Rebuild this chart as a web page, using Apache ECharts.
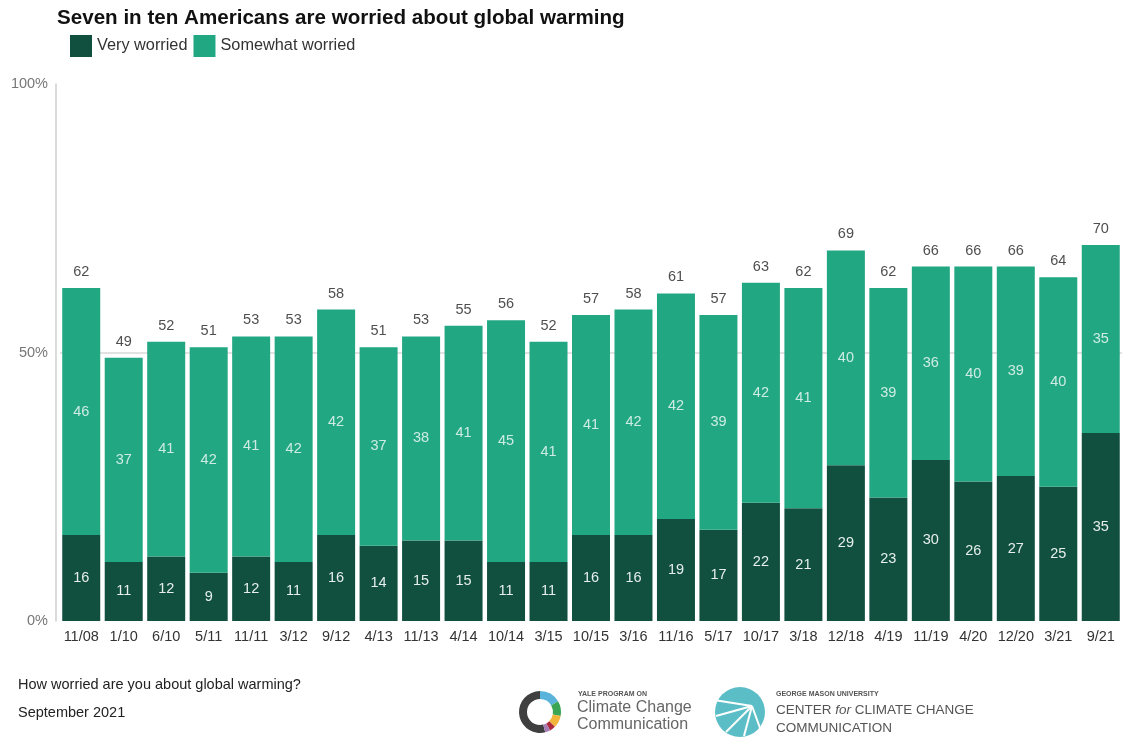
<!DOCTYPE html>
<html>
<head>
<meta charset="utf-8">
<script src="https://cdn.jsdelivr.net/npm/echarts@6/dist/echarts.min.js"></script>
<style>
  html, body { margin: 0; padding: 0; background: #fff; }
  #chart { width: 1122px; height: 740px; }
</style>
</head>
<body>
<div id="chart"></div>
<script>
// survey waves
const waves = ['11/08', '1/10', '6/10', '5/11', '11/11', '3/12', '9/12', '4/13', '11/13', '4/14',
  '10/14', '3/15', '10/15', '3/16', '11/16', '5/17', '10/17', '3/18', '12/18', '4/19',
  '11/19', '4/20', '12/20', '3/21', '9/21'];
// % very worried
const veryWorried = [16, 11, 12, 9, 12, 11, 16, 14, 15, 15, 11, 11, 16, 16, 19, 17, 22, 21, 29, 23, 30, 26, 27, 25, 35];
// % somewhat worried (label values)
const somewhatWorried = [46, 37, 41, 42, 41, 42, 42, 37, 38, 41, 45, 41, 41, 42, 42, 39, 42, 41, 40, 39, 36, 40, 39, 40, 35];
// total worried (rounded, so not always very + somewhat)
const totalWorried = [62, 49, 52, 51, 53, 53, 58, 51, 53, 55, 56, 52, 57, 58, 61, 57, 63, 62, 69, 62, 66, 66, 66, 64, 70];
const yTicks = [0, 50, 100];

const DARK = '#114f3f';
const LIGHT = '#22a783';
const FONT = '"Liberation Sans", Arial, sans-serif';

// top segment fills up to the total
const upperPart = totalWorried.map((t, i) => t - veryWorried[i]);

const chart = echarts.init(document.getElementById('chart'));

const option = {
  animation: false,
  textStyle: { fontFamily: FONT },
  title: {
    text: 'Seven in ten Americans are worried about global warming',
    left: 52,
    top: 3,
    textStyle: { fontSize: 20.6, fontWeight: 'bold', color: '#111', fontFamily: FONT }
  },
  legend: {
    left: 65,
    top: 30,
    itemWidth: 22,
    itemHeight: 22,
    itemGap: 6,
    icon: 'rect',
    data: ['Very worried', 'Somewhat worried'],
    textStyle: { fontSize: 16.3, color: '#333', fontFamily: FONT }
  },
  grid: { left: 60, top: 84, width: 1067, height: 537 },
  xAxis: {
    type: 'category',
    data: waves,
    axisLine: { show: false },
    axisTick: { show: false },
    axisLabel: { interval: 0, color: '#333', fontSize: 14.5, margin: 8, fontFamily: FONT }
  },
  yAxis: {
    type: 'value',
    min: yTicks[0],
    max: yTicks[yTicks.length - 1],
    interval: 50,
    offset: 4,
    axisLine: { show: true, lineStyle: { color: '#cfcfcf', width: 1.5 } },
    axisTick: { show: false },
    axisLabel: { color: '#777', fontSize: 14.5, margin: 8, formatter: '{value}%', fontFamily: FONT },
    splitLine: { show: true, lineStyle: { color: ['rgba(0,0,0,0)', '#d9d9d9'], width: 1.5 } }
  },
  series: [
    {
      name: 'Very worried',
      type: 'bar',
      stack: 'worry',
      barWidth: 38,
      data: veryWorried,
      itemStyle: { color: DARK },
      label: { show: true, position: 'inside', color: '#e6efec', fontSize: 14.5, fontFamily: FONT }
    },
    {
      name: 'Somewhat worried',
      type: 'bar',
      stack: 'worry',
      barWidth: 38,
      data: upperPart,
      itemStyle: { color: LIGHT },
      label: {
        show: true, position: 'inside', color: 'rgba(255,255,255,0.78)', fontSize: 14.5, fontFamily: FONT,
        formatter: p => somewhatWorried[p.dataIndex]
      }
    },
    {
      name: 'total',
      type: 'scatter',
      data: totalWorried,
      symbolSize: 1,
      itemStyle: { color: 'rgba(0,0,0,0)' },
      silent: true,
      z: 5,
      label: { show: true, position: 'top', distance: 8, color: '#222', fontSize: 14.5, fontFamily: FONT }
    }
  ],
  graphic: [
    { type: 'text', left: 18, top: 677, style: { text: 'How worried are you about global warming?', fill: '#222', font: '14.5px ' + FONT } },
    { type: 'text', left: 18, top: 705, style: { text: 'September 2021', fill: '#222', font: '14.5px ' + FONT } },
    // Yale ring logo
    { type: 'sector', shape: { cx: 540, cy: 712, r: 21, r0: 13, startAngle: Math.PI * 0.42, endAngle: Math.PI * 1.5 }, style: { fill: '#3f3f3f' } },
    { type: 'sector', shape: { cx: 540, cy: 712, r: 21, r0: 13, startAngle: -Math.PI * 0.5, endAngle: -Math.PI * 0.17 }, style: { fill: '#5ab3da' } },
    { type: 'sector', shape: { cx: 540, cy: 712, r: 21, r0: 13, startAngle: -Math.PI * 0.17, endAngle: Math.PI * 0.06 }, style: { fill: '#3ba556' } },
    { type: 'sector', shape: { cx: 540, cy: 712, r: 21, r0: 13, startAngle: Math.PI * 0.06, endAngle: Math.PI * 0.25 }, style: { fill: '#f0b53a' } },
    { type: 'sector', shape: { cx: 540, cy: 712, r: 21, r0: 13, startAngle: Math.PI * 0.25, endAngle: Math.PI * 0.34 }, style: { fill: '#b02a3e' } },
    { type: 'sector', shape: { cx: 540, cy: 712, r: 21, r0: 13, startAngle: Math.PI * 0.34, endAngle: Math.PI * 0.42 }, style: { fill: '#a77bb5' } },
    { type: 'text', left: 578, top: 691, style: { text: 'YALE PROGRAM ON', fill: '#555', font: 'bold 7px ' + FONT } },
    { type: 'text', left: 577, top: 700, style: { text: 'Climate Change', fill: '#666', font: '16px ' + FONT } },
    { type: 'text', left: 577, top: 717, style: { text: 'Communication', fill: '#666', font: '16px ' + FONT } },
    // GMU shell logo
    { type: 'circle', shape: { cx: 740, cy: 712, r: 25 }, style: { fill: '#5bbec7' } },
    { type: 'line', shape: { x1: 752, y1: 706, x2: 714, y2: 700 }, style: { stroke: '#fff', lineWidth: 2 } },
    { type: 'line', shape: { x1: 752, y1: 706, x2: 716, y2: 716 }, style: { stroke: '#fff', lineWidth: 2 } },
    { type: 'line', shape: { x1: 752, y1: 706, x2: 726, y2: 732 }, style: { stroke: '#fff', lineWidth: 2 } },
    { type: 'line', shape: { x1: 752, y1: 706, x2: 744, y2: 736 }, style: { stroke: '#fff', lineWidth: 2 } },
    { type: 'line', shape: { x1: 752, y1: 706, x2: 760, y2: 728 }, style: { stroke: '#fff', lineWidth: 2 } },
    { type: 'text', left: 776, top: 691, style: { text: 'GEORGE MASON UNIVERSITY', fill: '#555', font: 'bold 7px ' + FONT } },
    {
      type: 'text', left: 776, top: 703,
      style: {
        text: '{a|CENTER }{b|for}{a| CLIMATE CHANGE}',
        rich: {
          a: { fill: '#555', font: '13.5px ' + FONT },
          b: { fill: '#555', font: 'italic 13.5px ' + FONT }
        }
      }
    },
    { type: 'text', left: 776, top: 721, style: { text: 'COMMUNICATION', fill: '#555', font: '13.5px ' + FONT } }
  ]
};

chart.setOption(option);
</script>
</body>
</html>
